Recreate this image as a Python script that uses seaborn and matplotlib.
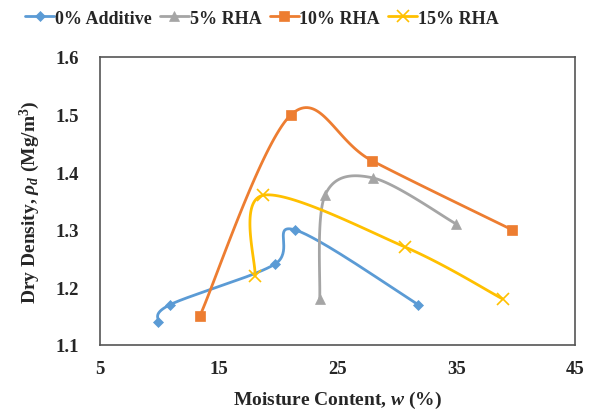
import numpy as np
import matplotlib.pyplot as plt
import seaborn as sns
from matplotlib.lines import Line2D

series_names = ["0% Additive", "5% RHA", "10% RHA", "15% RHA"]

moisture_0 = [9.9, 10.9, 19.7, 21.4, 31.8]
density_0 = [1.14, 1.17, 1.24, 1.30, 1.17]

moisture_5 = [23.5, 23.95, 28.0, 35.0]
density_5 = [1.18, 1.36, 1.39, 1.31]

moisture_10 = [13.4, 21.1, 27.9, 39.7]
density_10 = [1.15, 1.50, 1.42, 1.30]

moisture_15 = [18.05, 18.75, 30.7, 38.9]
density_15 = [1.22, 1.36, 1.27, 1.18]

colors = ["#5B9BD5", "#A5A5A5", "#ED7D31", "#FFC000"]
markers = ["D", "^", "s", "x"]
marker_sizes = [5.5, 7, 7, 8]


def excel_smooth(xs, ys, sx=11.9, sy=576.0, n=40):
    # catmull-rom style bezier like excel "smoothed line", done in pixel space
    p = np.column_stack([np.array(xs) * sx, np.array(ys) * sy])
    p = np.vstack([p[0], p, p[-1]])
    out = []
    for i in range(1, len(p) - 2):
        p0, p1, p2, p3 = p[i - 1], p[i], p[i + 1], p[i + 2]
        c1 = p1 + (p2 - p0) / 6.0
        c2 = p2 - (p3 - p1) / 6.0
        t = np.linspace(0, 1, n)[:, None]
        seg = ((1 - t) ** 3) * p1 + 3 * ((1 - t) ** 2) * t * c1 + 3 * (1 - t) * t ** 2 * c2 + t ** 3 * p2
        out.append(seg if i == 1 else seg[1:])
    out = np.vstack(out)
    return out[:, 0] / sx, out[:, 1] / sy


sns.set_style("white")
plt.rcParams["font.family"] = ["Liberation Serif", "DejaVu Serif"]
plt.rcParams["font.weight"] = "bold"
plt.rcParams["mathtext.fontset"] = "custom"
plt.rcParams["mathtext.rm"] = "Liberation Serif:bold"
plt.rcParams["mathtext.it"] = "Liberation Serif:italic:bold"

fig = plt.figure(figsize=(5.95, 4.14), dpi=100)
ax = fig.add_axes([100 / 595, 1 - 346 / 414, 475 / 595, 288 / 414])

all_x = [moisture_0, moisture_5, moisture_10, moisture_15]
all_y = [density_0, density_5, density_10, density_15]

handles = []
for name, xs, ys, c, m, ms in zip(series_names, all_x, all_y, colors, markers, marker_sizes):
    cx, cy = excel_smooth(xs, ys)
    sns.lineplot(x=cx, y=cy, sort=False, estimator=None, color=c, linewidth=2, ax=ax)
    ax.plot(xs, ys, linestyle="none", marker=m, color=c, markersize=ms,
            markeredgewidth=1.2 if m == "x" else 0.5)
    handles.append(Line2D([], [], color=c, linewidth=2, marker=m, markersize=ms,
                          markeredgewidth=1.2 if m == "x" else 0.5))

ax.set_xlim(5, 45)
ax.set_ylim(1.1, 1.6)
ax.set_xticks([5, 15, 25, 35, 45])
ax.set_yticks([1.1, 1.2, 1.3, 1.4, 1.5, 1.6])
ax.set_yticklabels(["1.1", "1.2", "1.3", "1.4", "1.5", "1.6"])
ax.tick_params(axis="x", length=0, labelsize=13.5, pad=11)
ax.tick_params(axis="y", length=0, labelsize=13.5, pad=15)
for lab in ax.get_xticklabels() + ax.get_yticklabels():
    lab.set_fontweight("bold")

for s in ax.spines.values():
    s.set_visible(True)
    s.set_color("#555555")
    s.set_linewidth(1.2)

ax.set_xlabel(r"Moisture Content, $w$ (%)", fontsize=14, fontweight="bold", labelpad=8)
ax.set_ylabel(r"Dry Density, $\rho_d$ (Mg/m$^3$)", fontsize=14, fontweight="bold", labelpad=10)

fig.legend(handles=handles, labels=series_names, loc="center", bbox_to_anchor=(262 / 595, 1 - 19 / 414),
           ncol=4, frameon=False, handlelength=1.6, handletextpad=0.05,
           columnspacing=0.45, prop={"weight": "bold", "size": 13})

fig.savefig("out.png", dpi=100)
